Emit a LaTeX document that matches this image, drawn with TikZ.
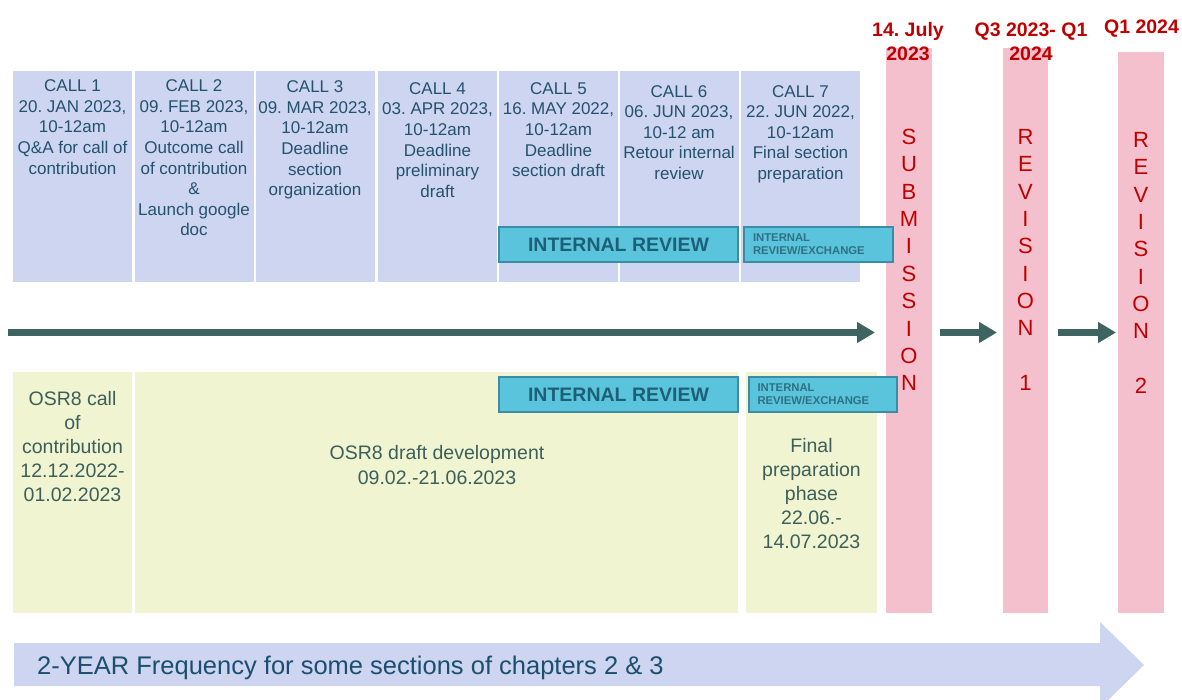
\documentclass[tikz,border=0pt]{standalone}
\usepackage{fontspec}
\setmainfont{Liberation Sans}
\usetikzlibrary{positioning,arrows.meta}

\definecolor{callblue}{RGB}{205,213,240}
\definecolor{phasegreen}{RGB}{240,244,208}
\definecolor{barpink}{RGB}{245,192,205}
\definecolor{reviewcyan}{RGB}{90,196,220}
\definecolor{reviewedge}{RGB}{60,140,165}
\definecolor{calltextcol}{RGB}{36,82,110}
\definecolor{phasetextcol}{RGB}{60,95,92}
\definecolor{reviewtextcol}{RGB}{30,95,120}
\definecolor{deadlinered}{RGB}{192,0,0}
\definecolor{flowgreen}{RGB}{62,100,98}
\definecolor{bandtextcol}{RGB}{28,78,112}

\begin{document}
\frenchspacing
\begin{tikzpicture}[x=1pt,y=-1pt,
  callbox/.style={fill=callblue, minimum width=119pt, minimum height=211pt, inner sep=0pt, outer sep=0pt},
  calltext/.style={text=calltextcol, align=center, inner sep=0pt, font=\fontsize{17}{20.6}\selectfont},
  phasebox/.style={fill=phasegreen, minimum height=241pt, inner sep=0pt, outer sep=0pt},
  phasetext/.style={text=phasetextcol, align=center, inner sep=0pt, font=\fontsize{19.5}{24.2}\selectfont},
  pinkbar/.style={fill=barpink, minimum width=46pt, inner sep=0pt, outer sep=0pt},
  barletters/.style={text=deadlinered, align=center, inner sep=0pt, font=\fontsize{22}{27.35}\selectfont},
  datehead/.style={text=deadlinered, align=center, inner sep=0pt, font=\fontsize{19.5}{24}\selectfont\bfseries},
  reviewbox/.style={fill=reviewcyan, draw=reviewedge, line width=1.5pt, minimum height=35pt, inner sep=0pt, outer sep=0pt, text=reviewtextcol},
  bigreview/.style={font=\fontsize{19.5}{22}\selectfont\bfseries},
  smallreview/.style={font=\fontsize{11.3}{13}\selectfont\bfseries, align=left, text width=131pt, text=reviewedge!80!black},
  flowarrow/.style={draw=flowgreen, line width=7pt, -{Triangle[length=18pt,width=20pt]}},
  bandtext/.style={text=bandtextcol, inner sep=0pt, font=\fontsize{25.5}{28}\selectfont}
]
\path[use as bounding box, fill=white] (0,0) rectangle (1182,700);

% calls
\node[callbox] (call1) at (72.5,176.5) {};
\node[callbox] (call2) at (194,176.5) {};
\node[callbox] (call3) at (315,176.5) {};
\node[callbox] (call4) at (437.5,176.5) {};
\node[callbox] (call5) at (558.5,176.5) {};
\node[callbox] (call6) at (679,176.5) {};
\node[callbox] (call7) at (800.5,176.5) {};

\node[calltext, below=8.6pt of call1.north] (call1txt) {CALL 1\\20. JAN 2023,\\10-12am\\Q\&A for call of\\contribution};
\node[calltext, below=8.6pt of call2.north] (call2txt) {CALL 2\\09. FEB 2023,\\10-12am\\Outcome call\\of contribution\\\&\\Launch google\\doc};
\node[calltext, below=9.6pt of call3.north] (call3txt) {CALL 3\\09. MAR 2023,\\10-12am\\Deadline\\section\\organization};
\node[calltext, below=11.2pt of call4.north] (call4txt) {CALL 4\\03. APR 2023,\\10-12am\\Deadline\\preliminary\\draft};
\node[calltext, below=11.2pt of call5.north] (call5txt) {CALL 5\\16. MAY 2022,\\10-12am\\Deadline\\section draft};
\node[calltext, below=14pt of call6.north] (call6txt) {CALL 6\\06. JUN 2023,\\10-12 am\\Retour internal\\review};
\node[calltext, below=14pt of call7.north] (call7txt) {CALL 7\\22. JUN 2022,\\10-12am\\Final section\\preparation};

% phases
\node[phasebox, minimum width=119pt] (phase1) at (72.5,492.5) {};
\node[phasebox, minimum width=603pt] (phase2) at (436.5,492.5) {};
\node[phasebox, minimum width=131pt] (phase3) at (811.5,492.5) {};

\node[phasetext, below=18.8pt of phase1.north] (phase1txt) {OSR8 call\\of\\contribution\\12.12.2022-\\01.02.2023};
\node[phasetext] (phase2txt) at (437,465) {OSR8 draft development\\09.02.-21.06.2023};
\node[phasetext, below=65.8pt of phase3.north] (phase3txt) {Final\\preparation\\phase\\22.06.-\\14.07.2023};

% submission and revisions
\node[pinkbar, minimum height=565pt] (subbar) at (909,330.5) {};
\node[pinkbar, minimum width=45pt, minimum height=565pt] (rev1bar) at (1025.5,330.5) {};
\node[pinkbar, minimum height=561pt] (rev2bar) at (1141,332.5) {};

\node[barletters, below=81pt of subbar.north] (subtxt) {S\\U\\B\\M\\I\\S\\S\\I\\O\\N};
\node[barletters, below=81pt of rev1bar.north] (rev1txt) {R\\E\\V\\I\\S\\I\\O\\N\\[27.35pt]1};
\node[barletters, below=80pt of rev2bar.north] (rev2txt) {R\\E\\V\\I\\S\\I\\O\\N\\[27.35pt]2};

\node[datehead, anchor=north] (subdate) at (908,22.5) {14. July\\2023};
\node[datehead, anchor=north] (rev1date) at (1031,22.5) {Q3 2023- Q1\\2024};
\node[datehead, anchor=north] (rev2date) at (1141.5,20) {Q1 2024};

% internal reviews
\node[reviewbox, bigreview, minimum width=239pt] (reviewup) at (618.5,244.5) {INTERNAL REVIEW};
\node[reviewbox, smallreview, minimum width=149pt] (exchangeup) at (818.5,244.5) {INTERNAL\\REVIEW/EXCHANGE};
\node[reviewbox, bigreview, minimum width=239pt] (reviewlow) at (618.5,394.5) {INTERNAL REVIEW};
\node[reviewbox, smallreview, minimum width=148pt] (exchangelow) at (823,394.5) {INTERNAL\\REVIEW/EXCHANGE};

% timeline
\coordinate (flowstart) at (8,332.5);
\draw[flowarrow, shorten >=11pt] (flowstart) -- (subbar.west |- flowstart);
\draw[flowarrow, shorten <=8pt, shorten >=6pt] (subbar.east |- flowstart) -- (rev1bar.west |- flowstart);
\draw[flowarrow, shorten <=10pt, shorten >=2pt] (rev1bar.east |- flowstart) -- (rev2bar.west |- flowstart);

% frequency band
\fill[callblue] (14,643) -- (1100,643) -- (1100,622) -- (1144,665) -- (1100,708) -- (1100,686) -- (14,686) -- cycle;
\node[bandtext, anchor=base west] (bandtxt) at (37,674) {2-YEAR Frequency for some sections of chapters 2 \& 3};
\end{tikzpicture}
\end{document}
